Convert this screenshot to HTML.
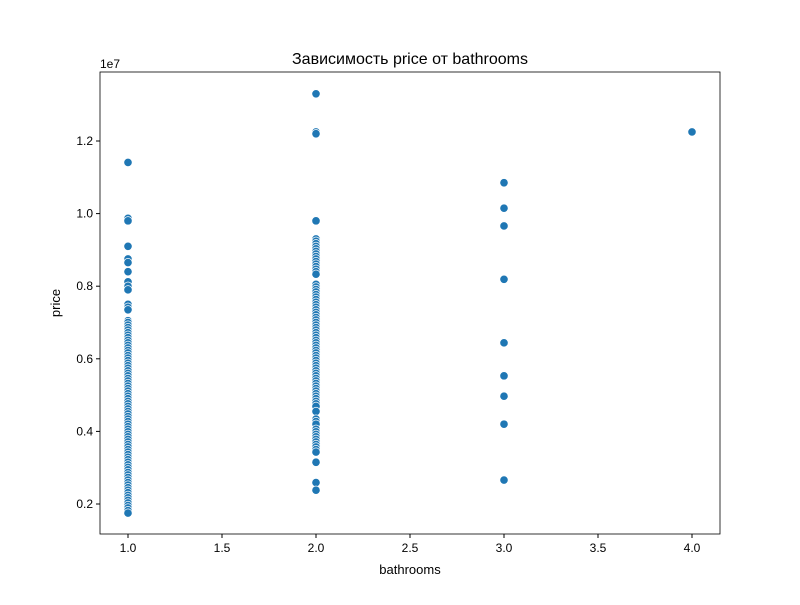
<!DOCTYPE html>
<html><head><meta charset="utf-8"><style>
body{margin:0;background:#fff}
svg text{font-family:"Liberation Sans","DejaVu Sans",sans-serif;fill:#000}
</style></head><body>
<svg id="chart" width="800" height="600" viewBox="0 0 800 600">
<rect width="800" height="600" fill="#fff"/>
<text x="410" y="64" font-size="16" text-anchor="middle">Зависимость price от bathrooms</text>
<g id="marks"></g>
<g id="axes"></g>
<text x="410" y="574" font-size="13" text-anchor="middle">bathrooms</text>
<text x="0" y="0" font-size="13" text-anchor="middle" transform="translate(60,303) rotate(-90)">price</text>
<text x="100" y="68" font-size="12">1e7</text>
</svg>
<script>
const xTicks=[1.0,1.5,2.0,2.5,3.0,3.5,4.0];
const yTicks=[0.2,0.4,0.6,0.8,1.0,1.2];
const bath1=[11.41,9.87,9.8,9.1,8.75,8.65,8.4,8.12,8.0,7.9,7.5,7.42,7.35,7.05,7.0,6.93,6.86,6.79,6.72,6.65,6.58,6.51,6.44,6.37,6.3,6.23,6.16,6.09,6.02,5.95,5.88,5.81,5.74,5.67,5.6,5.53,5.46,5.39,5.32,5.25,5.18,5.11,5.04,4.97,4.9,4.83,4.76,4.69,4.62,4.55,4.48,4.41,4.34,4.27,4.2,4.13,4.06,3.99,3.92,3.85,3.78,3.71,3.64,3.57,3.5,3.43,3.36,3.29,3.22,3.15,3.08,3.01,2.94,2.87,2.8,2.73,2.66,2.59,2.52,2.45,2.38,2.31,2.24,2.17,2.1,2.03,1.96,1.89,1.82,1.75];
const bath2=[13.3,12.25,12.2,9.8,9.3,9.24,9.17,9.1,9.03,8.96,8.89,8.82,8.75,8.68,8.61,8.54,8.47,8.4,8.33,8.05,7.98,7.91,7.84,7.77,7.7,7.63,7.56,7.49,7.42,7.35,7.28,7.21,7.14,7.07,7.0,6.93,6.86,6.79,6.72,6.65,6.58,6.51,6.44,6.37,6.3,6.23,6.16,6.09,6.02,5.95,5.88,5.81,5.74,5.67,5.6,5.53,5.46,5.39,5.32,5.25,5.18,5.11,5.04,4.97,4.9,4.83,4.76,4.69,4.55,4.34,4.27,4.2,4.06,3.99,3.92,3.85,3.78,3.71,3.64,3.57,3.5,3.43,3.15,2.59,2.38];
const bath3=[10.85,10.15,9.66,8.19,6.44,5.53,4.97,4.2,2.66];
const bath4=[12.25];
const groups=[[1,bath1],[2,bath2],[3,bath3],[4,bath4]];
const L=100,R=720,T=72,B=534;
const xs=v=>128+(v-1)*188;
const ys=v=>504-(v-0.2)*363; // v in units of 1e7
const NS="http://www.w3.org/2000/svg";
const marks=document.getElementById('marks');
groups.forEach(([bx,vals])=>{vals.forEach(p=>{
 const c=document.createElementNS(NS,'circle');
 c.setAttribute('cx',xs(bx));c.setAttribute('cy',ys(p/10));c.setAttribute('r',4.2);
 c.setAttribute('fill','#1f77b4');c.setAttribute('stroke','#fff');c.setAttribute('stroke-width','0.75');
 
 
 marks.appendChild(c);
});});
const ax=document.getElementById('axes');
const fr=document.createElementNS(NS,'rect');
fr.setAttribute('x',L);fr.setAttribute('y',T);fr.setAttribute('width',R-L);fr.setAttribute('height',B-T);
fr.setAttribute('fill','none');fr.setAttribute('stroke','#000');fr.setAttribute('stroke-width','0.8');


ax.appendChild(fr);
xTicks.forEach(t=>{
 const x=xs(t);
 const l=document.createElementNS(NS,'line');
 l.setAttribute('x1',x);l.setAttribute('x2',x);l.setAttribute('y1',B);l.setAttribute('y2',B+4);l.setAttribute('stroke','#000');
 
 
 ax.appendChild(l);
 const tx=document.createElementNS(NS,'text');
 tx.setAttribute('x',x);tx.setAttribute('y',B+18);tx.setAttribute('font-size','12');tx.setAttribute('text-anchor','middle');
 tx.textContent=t.toFixed(1);
 
 
 ax.appendChild(tx);
});
yTicks.forEach(t=>{
 const y=ys(t);
 const l=document.createElementNS(NS,'line');
 l.setAttribute('x1',L-4);l.setAttribute('x2',L);l.setAttribute('y1',y);l.setAttribute('y2',y);l.setAttribute('stroke','#000');
 
 
 ax.appendChild(l);
 const tx=document.createElementNS(NS,'text');
 tx.setAttribute('x',L-7);tx.setAttribute('y',y+4);tx.setAttribute('font-size','12');tx.setAttribute('text-anchor','end');
 tx.textContent=t.toFixed(1);
 
 
 ax.appendChild(tx);
});
</script>
</body></html>
